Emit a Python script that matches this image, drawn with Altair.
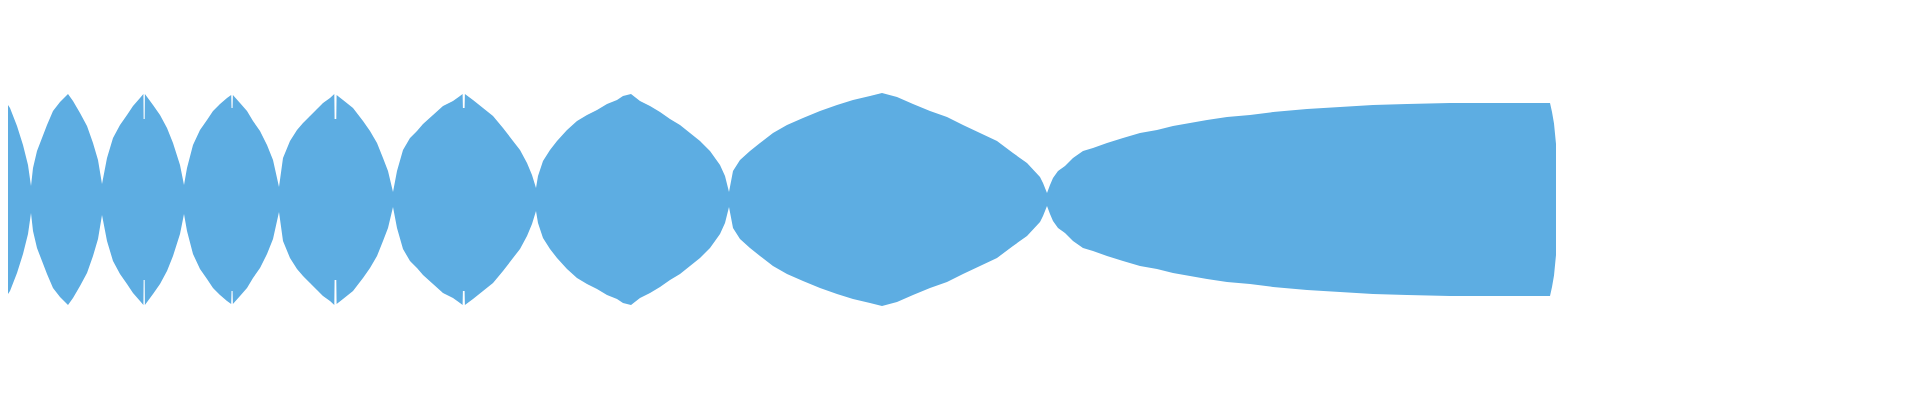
import altair as alt
import pandas as pd

# time (s) and half-amplitude of the envelope
t = [
    0.00, 0.01, 0.10, 0.17, 0.23, 0.28, 0.31,
    0.33, 0.37, 0.42, 0.47, 0.53, 0.60, 0.68, 0.73, 0.80, 0.87, 0.93, 0.98, 1.02,
    1.07, 1.13, 1.20, 1.27, 1.33, 1.40, 1.434, 1.436, 1.447, 1.449, 1.53, 1.60, 1.67, 1.73, 1.80, 1.84,
    1.87, 1.93, 2.00, 2.07, 2.13, 2.20, 2.27, 2.312, 2.315, 2.326, 2.329, 2.40, 2.47, 2.53, 2.60, 2.67, 2.73, 2.79,
    2.83, 2.90, 2.97, 3.03, 3.10, 3.17, 3.23, 3.30, 3.343, 3.346, 3.363, 3.366, 3.43, 3.53, 3.63, 3.70, 3.77, 3.83, 3.88, 3.93,
    3.97, 4.03, 4.10, 4.17, 4.23, 4.33, 4.43, 4.53, 4.60, 4.626, 4.629, 4.646, 4.649, 4.73, 4.83, 4.93, 5.03, 5.13, 5.20, 5.27, 5.32, 5.36,
    5.38, 5.43, 5.50, 5.57, 5.67, 5.77, 5.87, 5.97, 6.07, 6.17, 6.23, 6.31, 6.40, 6.50, 6.60, 6.70, 6.80, 6.90, 7.00, 7.10, 7.20, 7.25, 7.29,
    7.33, 7.40, 7.50, 7.60, 7.73, 7.87, 8.03, 8.20, 8.37, 8.53, 8.70, 8.82, 8.97, 9.13, 9.30, 9.47, 9.63, 9.80, 9.97, 10.13, 10.27, 10.40, 10.43, 10.47,
    10.50, 10.53, 10.58, 10.65, 10.73, 10.83, 10.93, 11.07, 11.23, 11.40, 11.57, 11.73, 11.90, 12.07, 12.27, 12.50, 12.73, 13.07, 13.40, 13.73, 14.07, 14.50, 15.50, 15.52, 15.54, 15.56,
]
amp = [
    0.525, 1.045, 0.915, 0.735, 0.545, 0.345, 0.135,
    0.315, 0.485, 0.615, 0.745, 0.885, 0.975, 1.055, 0.985, 0.865, 0.735, 0.565, 0.395, 0.155,
    0.415, 0.615, 0.745, 0.845, 0.935, 1.015, 1.055, 0.805, 0.805, 1.055, 0.945, 0.845, 0.715, 0.565, 0.345, 0.145,
    0.315, 0.545, 0.695, 0.795, 0.885, 0.955, 1.015, 1.045, 0.915, 0.915, 1.045, 0.965, 0.885, 0.785, 0.685, 0.545, 0.395, 0.125,
    0.415, 0.585, 0.695, 0.765, 0.835, 0.905, 0.965, 1.015, 1.055, 0.805, 0.805, 1.045, 0.995, 0.915, 0.785, 0.685, 0.565, 0.415, 0.285, 0.075,
    0.285, 0.495, 0.615, 0.685, 0.755, 0.845, 0.935, 0.985, 1.035, 1.055, 0.915, 0.915, 1.055, 0.995, 0.915, 0.835, 0.715, 0.585, 0.495, 0.365, 0.245, 0.115,
    0.235, 0.385, 0.495, 0.585, 0.695, 0.785, 0.845, 0.895, 0.955, 0.995, 1.035, 1.055, 0.985, 0.935, 0.875, 0.805, 0.745, 0.665, 0.585, 0.485, 0.345, 0.235, 0.075,
    0.285, 0.395, 0.485, 0.565, 0.665, 0.745, 0.815, 0.885, 0.945, 0.995, 1.035, 1.065, 1.025, 0.955, 0.885, 0.825, 0.745, 0.665, 0.585, 0.465, 0.365, 0.225, 0.165, 0.065,
    0.145, 0.215, 0.285, 0.335, 0.415, 0.485, 0.515, 0.565, 0.615, 0.665, 0.695, 0.735, 0.765, 0.795, 0.825, 0.845, 0.875, 0.905, 0.925, 0.945, 0.955, 0.965, 0.965, 0.875, 0.760, 0.555,
]

df = pd.DataFrame({"t": t, "amp": amp})

chart = (
    alt.Chart(df)
    .transform_calculate(neg="-datum.amp")
    .mark_area(color="#5DADE2", opacity=1, clip=True, interpolate="linear")
    .encode(
        x=alt.X("t:Q", scale=alt.Scale(domain=[0.08, 19.12], nice=False, zero=False), axis=None),
        y=alt.Y("amp:Q", scale=alt.Scale(domain=[-1.915, 1.915], nice=False), axis=None),
        y2=alt.Y2("neg:Q"),
    )
    .properties(width=1904, height=383, padding=0, background="white")
    .configure_view(stroke=None)
)

chart.save("out.html", embed_options={"renderer": "svg", "actions": False})
